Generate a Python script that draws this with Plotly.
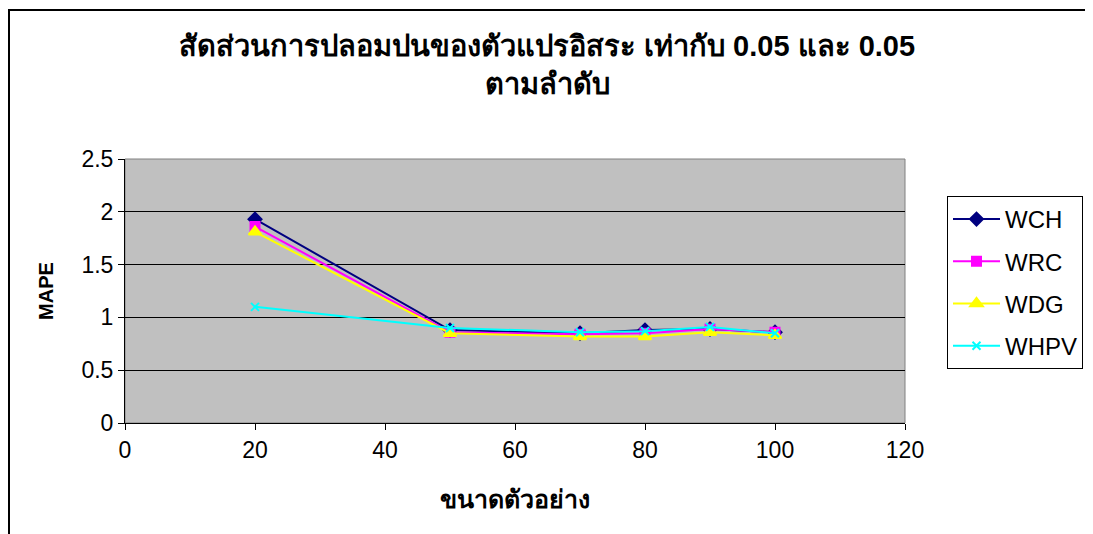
import plotly.graph_objects as go

x_vals = [20, 50, 70, 80, 90, 100]
wch = [1.93, 0.88, 0.85, 0.88, 0.89, 0.86]
wrc = [1.86, 0.86, 0.84, 0.85, 0.89, 0.86]
wdg = [1.81, 0.85, 0.82, 0.82, 0.86, 0.83]
whpv = [1.10, 0.90, 0.86, 0.87, 0.91, 0.85]

series = [
    ("WCH", wch, "#000080", "diamond", 10),
    ("WRC", wrc, "#FF00FF", "square", 9),
    ("WDG", wdg, "#FFFF00", "triangle-up", 11),
    ("WHPV", whpv, "#00FFFF", "x-thin", 8),
]

fig = go.Figure()
for name, ys, col, sym, sz in series:
    fig.add_trace(go.Scatter(
        x=x_vals, y=ys, name=name, mode="lines+markers",
        line=dict(color=col, width=2),
        marker=dict(symbol=sym, size=sz, color=col, line=dict(color=col, width=2)),
        legendgroup=name,
    ))

W, H = 1085, 526
L, R, T, B = 117, 188, 151, 111
PW, PH = W - L - R, H - T - B


def px(xf):
    return (xf - L) / PW


def py(yf):
    return (H - B - yf) / PH


fig.update_layout(
    width=W, height=H,
    margin=dict(l=L, r=R, t=T, b=B, autoexpand=False),
    paper_bgcolor="white",
    plot_bgcolor="#C0C0C0",
    font=dict(family="Arial, Liberation Sans, sans-serif", size=23, color="black"),
    showlegend=True,
    legend=dict(
        x=px(939), y=py(188), xanchor="left", yanchor="top",
        bordercolor="black", borderwidth=1, bgcolor="white",
        font=dict(size=24), tracegroupgap=8, itemwidth=47,
    ),
    xaxis=dict(
        range=[0, 120], dtick=20, showgrid=False, zeroline=False,
        showline=True, linecolor="black", linewidth=1,
        ticks="outside", ticklen=6, tickcolor="black",
        tickfont=dict(size=23),
        title=dict(text="<b>ขนาดตัวอย่าง</b>", font=dict(size=25), standoff=28),
    ),
    yaxis=dict(
        range=[0, 2.5], dtick=0.5, showgrid=True, gridcolor="black", gridwidth=1,
        zeroline=False, showline=True, linecolor="black", linewidth=1,
        ticks="outside", ticklen=6, tickcolor="black",
        tickfont=dict(size=23),
        title=dict(text="<b>MAPE</b>", font=dict(size=20), standoff=22),
    ),
    shapes=[
        dict(type="rect", xref="paper", yref="paper", x0=0, x1=1, y0=0, y1=1,
             line=dict(color="#808080", width=1), layer="below"),
        dict(type="rect", xref="paper", yref="paper",
             x0=px(1), x1=px(1084),
             y0=py(H + 40), y1=py(2),
             line=dict(color="black", width=2)),
    ],
    annotations=[
        dict(text="<b>สัดส่วนการปลอมปนของตัวแปรอิสระ เท่ากับ 0.05 และ 0.05</b>",
             xref="paper", yref="paper", x=px(539), y=py(38),
             xanchor="center", yanchor="middle", showarrow=False,
             font=dict(size=29)),
        dict(text="<b>ตามลำดับ</b>",
             xref="paper", yref="paper", x=px(539), y=py(76),
             xanchor="center", yanchor="middle", showarrow=False,
             font=dict(size=29)),
    ],
)

fig.write_html("out.html")
